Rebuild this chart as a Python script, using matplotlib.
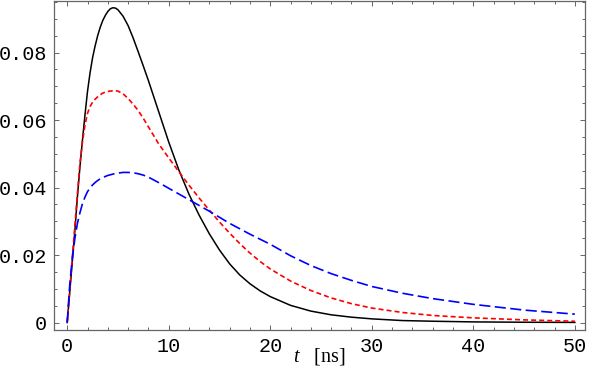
import matplotlib
matplotlib.use("Agg")
import matplotlib.pyplot as plt
from matplotlib.ticker import MultipleLocator, FixedLocator

# values
t_ns = [0, 0.25, 0.5, 0.75, 1, 1.25, 1.5, 1.75, 2, 2.25, 2.5, 2.75, 3, 3.25, 3.5,
        3.75, 4, 4.25, 4.5, 4.75, 5, 5.5, 6, 6.5, 7, 7.5, 8, 9, 10, 11, 12, 13,
        14, 15, 16, 17, 18, 19, 20, 22, 24, 26, 28, 30, 33, 36, 40, 45, 50]

black_vals = [0, 0.009, 0.018, 0.027, 0.037, 0.046, 0.054, 0.0615, 0.0685, 0.0740,
              0.0785, 0.0820, 0.0850, 0.0875, 0.0895, 0.0910, 0.0922, 0.0930,
              0.0933, 0.0932, 0.0927, 0.0908, 0.0880, 0.0843, 0.0802, 0.0760,
              0.0717, 0.0626, 0.0535, 0.0452, 0.0380, 0.0318, 0.0263, 0.0215,
              0.0174, 0.0141, 0.0115, 0.0094, 0.0077, 0.0051, 0.0034, 0.0023,
              0.0016, 0.0011, 0.0006, 0.0004, 0.0002, 0.0001, 0.00005]

red_vals = [0, 0.0095, 0.019, 0.0285, 0.038, 0.047, 0.0535, 0.0585, 0.0620, 0.0640,
            0.0653, 0.0662, 0.0669, 0.0675, 0.0680, 0.0683, 0.0685, 0.0686,
            0.0687, 0.0687, 0.0686, 0.0678, 0.0664, 0.0647, 0.0628, 0.0605,
            0.0580, 0.0530, 0.0488, 0.0447, 0.0407, 0.0369, 0.0333, 0.0298,
            0.0265, 0.0234, 0.0206, 0.0181, 0.0159, 0.0123, 0.0095, 0.0073,
            0.0056, 0.0043, 0.0030, 0.0021, 0.0014, 0.0008, 0.0004]

blue_vals = [0, 0.0112, 0.019, 0.0248, 0.0293, 0.0325, 0.0352, 0.0372, 0.0388, 0.0399,
             0.0408, 0.0415, 0.0421, 0.0426, 0.0430, 0.0433, 0.0436, 0.0438,
             0.0440, 0.0442, 0.0443, 0.0445, 0.0445, 0.0444, 0.0441, 0.0437,
             0.0431, 0.0415, 0.0398, 0.0381, 0.0364, 0.0347, 0.0330, 0.0312,
             0.0294, 0.0278, 0.0262, 0.0247, 0.0232, 0.0198, 0.0169, 0.0145,
             0.0125, 0.0107, 0.0087, 0.0071, 0.0054, 0.0037, 0.0025]

x_ticks = [0, 10, 20, 30, 40, 50]
y_ticks = [0, 0.02, 0.04, 0.06, 0.08]
y_tick_labels = ["0", "0.02", "0.04", "0.06", "0.08"]

plt.rcParams["lines.scale_dashes"] = False
plt.rcParams["mathtext.fontset"] = "custom"
plt.rcParams["mathtext.it"] = "Liberation Serif:italic"
plt.rcParams["mathtext.rm"] = "Liberation Serif"

fig = plt.figure(figsize=(5.89, 3.68), dpi=100)
ax = fig.add_axes([54 / 589, 38 / 368, 531 / 589, 329 / 368])

ax.plot(t_ns, black_vals, color="black", lw=1.1)
ax.plot(t_ns, red_vals, color="red", lw=1.2, dashes=(3.6, 2.2))
ax.plot(t_ns, blue_vals, color="blue", lw=1.2, dashes=(8.0, 3.2))

ax.set_xlim(-1.3, 51.0)
ax.set_ylim(-0.0022, 0.0953)

ax.xaxis.set_major_locator(FixedLocator(x_ticks))
ax.xaxis.set_minor_locator(MultipleLocator(2))
ax.yaxis.set_major_locator(FixedLocator(y_ticks))
ax.yaxis.set_minor_locator(MultipleLocator(0.005))
ax.set_yticklabels(y_tick_labels)

for sp in ax.spines.values():
    sp.set_color("#666666")
    sp.set_linewidth(0.9)

ax.tick_params(which="both", direction="in", top=True, right=True,
               color="#666666", width=0.7)
ax.tick_params(which="major", length=3.8, pad=5, labelsize=14.5)
ax.tick_params(which="minor", length=2.2)
for lab in ax.get_xticklabels() + ax.get_yticklabels():
    lab.set_family("Liberation Mono")

ax.set_xlabel(r"$t$   [ns]", family="Liberation Serif", fontsize=14.5, va="baseline")
ax.xaxis.set_label_coords(0.5, -0.0964)

fig.savefig("out.png", dpi=100)
